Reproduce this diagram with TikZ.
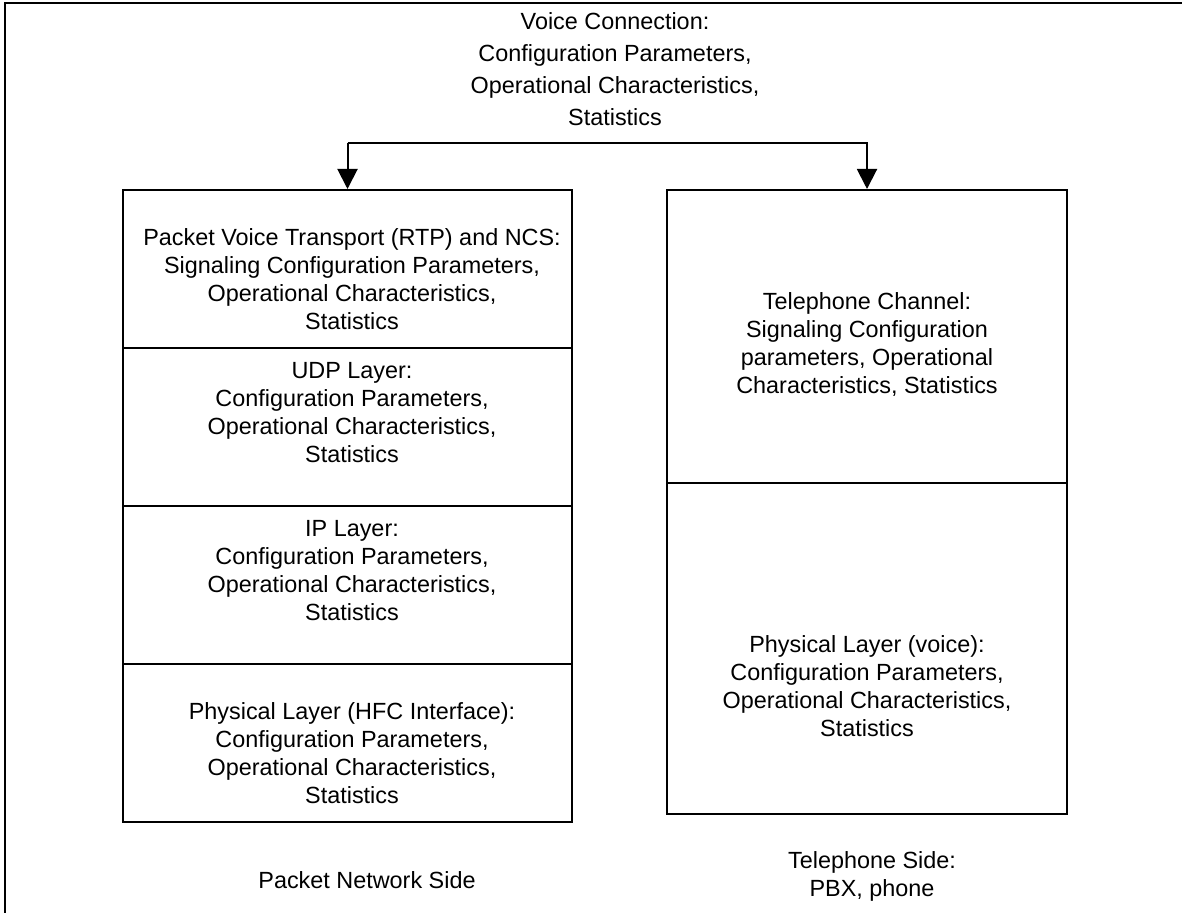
\documentclass[tikz,border=0pt]{standalone}
\usepackage{fontspec}
\setmainfont{Liberation Sans}
\usetikzlibrary{arrows.meta}

\tikzset{
	layer/.style={draw, line width=1pt, minimum width=224.5pt, inner sep=0pt, align=center},
	flow/.style={line width=1pt, -{Triangle[width=10pt,length=10pt]}},
}

\begin{document}
\begin{tikzpicture}[x=0.5pt, y=-0.5pt, font=\fontsize{11.7}{14}\selectfont]
	\useasboundingbox (0,0) rectangle (1182,913);
	\draw[line width=1.3pt] (5,913) -- (5,3) -- (1182,3);

	\node (Voice) [align=center, font=\fontsize{11.7}{16}\selectfont] at (615,69) {Voice Connection:\\Configuration Parameters,\\Operational Characteristics,\\Statistics};

	% packet network side
	\node (RTP) [layer, minimum height=79pt] at (347.5,269) {};
	\node (RTPText) at (352,279) [align=center] {Packet Voice Transport (RTP) and NCS:\\Signaling Configuration Parameters,\\Operational Characteristics,\\Statistics};
	\node (UDP) [layer, minimum height=79pt] at (347.5,427) {};
	\node (UDPText) at (352,413) [align=center] {UDP Layer:\\Configuration Parameters,\\Operational Characteristics,\\Statistics};
	\node (IP) [layer, minimum height=79pt] at (347.5,585) {};
	\node (IPText) at (352,571) [align=center] {IP Layer:\\Configuration Parameters,\\Operational Characteristics,\\Statistics};
	\node (HFC) [layer, minimum height=79pt] at (347.5,743) {};
	\node (HFCText) at (352,753) [align=center] {Physical Layer (HFC Interface):\\Configuration Parameters,\\Operational Characteristics,\\Statistics};

	% telephone side
	\node (Chan) [layer, minimum width=200pt, minimum height=146.5pt] at (867,336.5) {};
	\node (ChanText) at (867,345) [align=center] {Telephone Channel:\\Signaling Configuration\\parameters, Operational\\Characteristics, Statistics};
	\node (Phys) [layer, minimum width=200pt, minimum height=165.5pt] at (867,648.5) {};
	\node (PhysText) at (867,686) [align=center] {Physical Layer (voice):\\Configuration Parameters,\\Operational Characteristics,\\Statistics};

	\coordinate (Fork) at (347.5,143);
	\draw[flow] (Fork) -- (RTP.north);
	\draw[flow] (Fork) -| (Chan.north);

	\node (PacketSide) at (367,880) {Packet Network Side};
	\node (PhoneSide) at (872,876) [align=center] {Telephone Side:\\PBX, phone};
\end{tikzpicture}
\end{document}
